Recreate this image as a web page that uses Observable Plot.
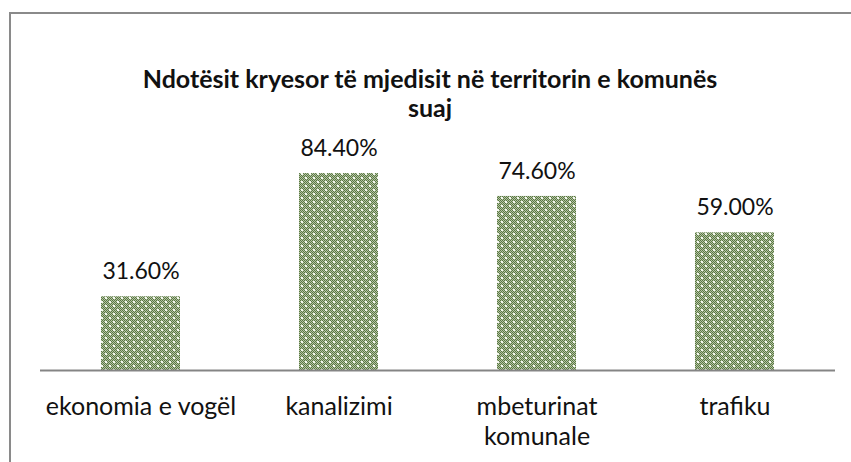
<!DOCTYPE html>
<html><head><meta charset="utf-8">
<script src="https://cdn.jsdelivr.net/npm/d3@7"></script>
<script src="https://cdn.jsdelivr.net/npm/@observablehq/plot@0.6"></script>
<style>
body{margin:0;background:#fff;}
#wrap{position:relative;width:851px;height:462px;overflow:hidden;font-family:Lato,sans-serif;background:#fff;}
#frame{position:absolute;left:9px;top:12px;width:900px;height:500px;border:2px solid #8a8a8a;box-sizing:border-box;}
#title{position:absolute;left:10px;width:840px;top:64px;text-align:center;font-weight:bold;font-size:25px;line-height:29px;color:#111;}
#chart{position:absolute;left:0;top:120px;}
</style></head>
<body>
<div id="wrap">
  <div id="frame"></div>
  <div id="title">Ndotësit kryesor të mjedisit në territorin e komunës<br>suaj</div>
  <div id="chart"></div>
</div>
<script>
const categories = ["ekonomia e vogël", "kanalizimi", "mbeturinat komunale", "trafiku"];
const tickLabels = ["ekonomia e vogël", "kanalizimi", "mbeturinat\nkomunale", "trafiku"];
const values = [31.6, 84.4, 74.6, 59.0];

const data = categories.map((c, i) => ({category: c, value: values[i]}));
const labelOf = new Map(categories.map((c, i) => [c, tickLabels[i]]));

const plot = Plot.plot({
  width: 851,
  height: 342,
  marginLeft: 40,
  marginRight: 16,
  marginTop: 40,
  marginBottom: 92,
  style: {fontFamily: "Lato, sans-serif", color: "#111", background: "transparent"},
  x: {domain: categories, paddingInner: 0.6, paddingOuter: 0.3},
  y: {domain: [0, 90], axis: null},
  marks: [
    Plot.barY(data, {x: "category", y: "value", fill: "url(#dotpat)"}),
    Plot.ruleY([0], {stroke: "#858585", strokeWidth: 2}),
    Plot.text(data, {x: "category", y: "value", text: d => d.value.toFixed(2) + "%", dy: -25, lineAnchor: "middle", fontSize: 23, fill: "#111"}),
    Plot.axisX({tickSize: 0, tickPadding: 23, fontSize: 25, lineHeight: 1.2, label: null, tickFormat: d => labelOf.get(d), fill: "#111"})
  ]
});

const defs = d3.select(plot).insert("defs", ":first-child");
defs.html(`
  <pattern id="chk" width="2" height="2" patternUnits="userSpaceOnUse">
    <rect width="2" height="2" fill="#b6c5a2"/>
    <rect x="0" y="0" width="1" height="1" fill="#587644"/>
    <rect x="1" y="1" width="1" height="1" fill="#587644"/>
  </pattern>
  <pattern id="dotpat" width="8" height="8" patternUnits="userSpaceOnUse">
    <rect width="8" height="8" fill="url(#chk)"/>
    <rect x="1" y="1" width="2" height="2" fill="#f3f7ee"/>
    <rect x="5" y="5" width="2" height="2" fill="#f3f7ee"/>
  </pattern>`);

document.getElementById("chart").appendChild(plot);
</script>
</body></html>
